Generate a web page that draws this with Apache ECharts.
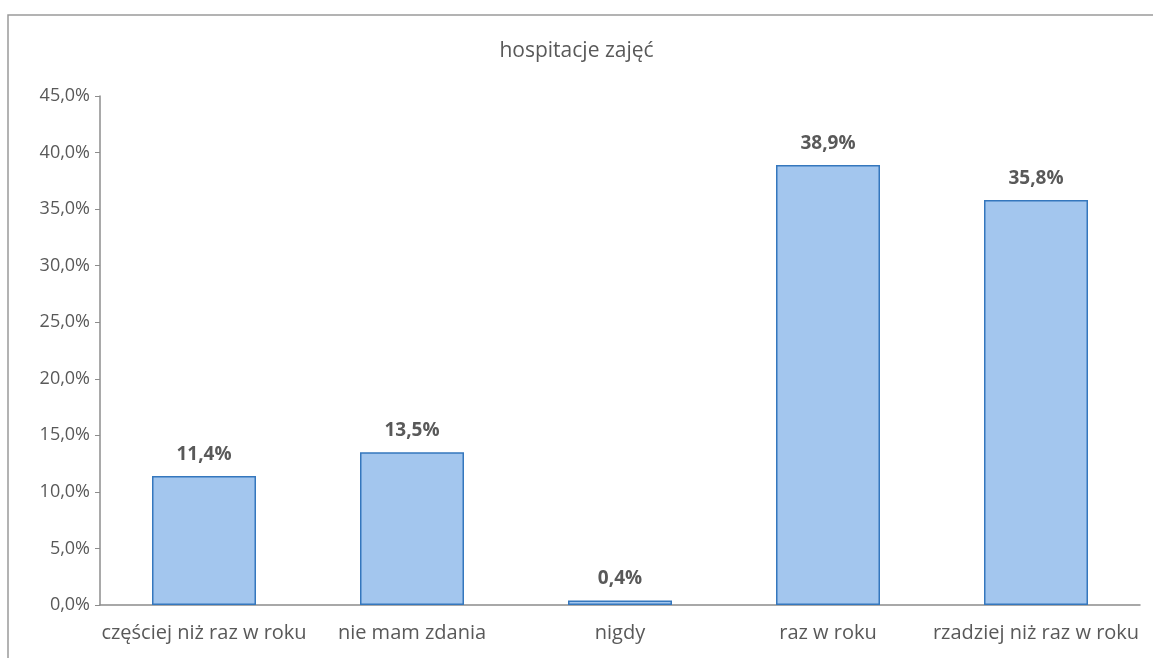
<!DOCTYPE html>
<html>
<head>
<meta charset="utf-8">
<script src="https://cdn.jsdelivr.net/npm/echarts@6/dist/echarts.min.js"></script>
<style>
  html, body { margin: 0; padding: 0; background: #fff; }
  #chart { width: 1153px; height: 658px; }
</style>
</head>
<body>
<div id="chart"></div>
<script>
const categories = ['częściej niż raz w roku', 'nie mam zdania', 'nigdy', 'raz w roku', 'rzadziej niż raz w roku']
const values = [11.4, 13.5, 0.4, 38.9, 35.8]
const yTicks = { min: 0, max: 45, interval: 5 }

const fmt = v => v.toFixed(1).replace('.', ',') + '%'
const font = '"Open Sans", "Noto Sans", sans-serif'

const chart = echarts.init(document.getElementById('chart'))
chart.setOption({
  animation: false,
  title: {
    text: 'hospitacje zajęć',
    left: 'center',
    top: 36,
    textStyle: { color: '#595959', fontSize: 21, fontWeight: 'normal', fontFamily: font }
  },
  graphic: [{
    type: 'rect',
    shape: { x: 8, y: 15, width: 1160, height: 660 },
    style: { fill: 'none', stroke: '#9a9a9a', lineWidth: 1.5 },
    silent: true
  }],
  grid: { left: 100, right: 13, top: 96, bottom: 53 },
  xAxis: {
    type: 'category',
    data: categories,
    axisLine: { lineStyle: { color: '#8c8c8c', width: 1.5 } },
    axisTick: { show: false },
    axisLabel: { color: '#595959', fontSize: 20, fontFamily: font, margin: 18, interval: 0 }
  },
  yAxis: {
    type: 'value',
    min: yTicks.min,
    max: yTicks.max,
    interval: yTicks.interval,
    splitLine: { show: false },
    axisLine: { show: true, lineStyle: { color: '#8c8c8c', width: 1.5 } },
    axisTick: { show: true, length: 5, lineStyle: { color: '#8c8c8c' } },
    axisLabel: { color: '#595959', fontSize: 18, fontFamily: font, margin: 10, formatter: fmt }
  },
  series: [{
    type: 'bar',
    data: values,
    barWidth: '50%',
    itemStyle: { color: '#a3c6ee', borderColor: '#3577bd', borderWidth: 1.5 },
    label: {
      show: true,
      position: 'top',
      distance: 12,
      color: '#595959',
      fontSize: 19,
      fontWeight: 'bold',
      fontFamily: font,
      formatter: p => fmt(p.value)
    }
  }]
})
</script>
</body>
</html>
